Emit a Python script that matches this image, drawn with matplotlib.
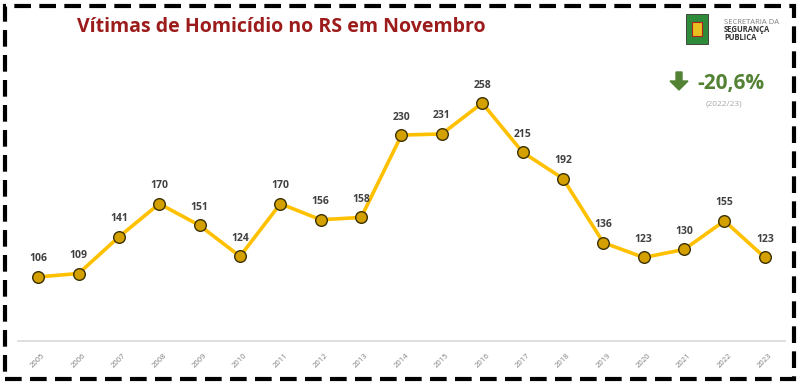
import matplotlib.pyplot as plt
from matplotlib.patches import Rectangle, FancyArrow

years = [str(y) for y in range(2005, 2024)]
vitimas = [106, 109, 141, 170, 151, 124, 170, 156, 158, 230, 231, 258, 215, 192, 136, 123, 130, 155, 123]

W, H = 800, 385
fig = plt.figure(figsize=(W / 100, H / 100), dpi=100)
plt.rcParams['font.family'] = ['Open Sans', 'DejaVu Sans']

ax = fig.add_axes([18 / W, 1 - 341 / H, (785 - 18) / W, (341 - 55) / H])
x = range(len(years))
ax.plot(x, vitimas, color='#FFC000', lw=2.6, zorder=2)
ax.scatter(x, vitimas, s=70, color='#D4A000', edgecolor='#3a3000', linewidth=1.0, zorder=3)
for xi, v in zip(x, vitimas):
    ax.annotate(str(v), (xi, v), xytext=(0, 9), textcoords='offset points',
                ha='center', va='bottom', fontsize=7.5, fontweight='bold', color='#404040')

ax.set_xlim(-0.5, len(years) - 0.5)
ax.set_ylim(50, 300)
ax.set_xticks(list(x))
ax.set_xticklabels(years, rotation=45, fontsize=5.5, color='#7f7f7f', ha='center', va='top')
ax.tick_params(axis='x', length=0, pad=8)
ax.set_yticks([])
for s in ['top', 'left', 'right']:
    ax.spines[s].set_visible(False)
ax.spines['bottom'].set_color('#d9d9d9')
ax.spines['bottom'].set_linewidth(1.2)
ax.patch.set_alpha(0)

# title
fig.text(281 / W, 1 - 27 / H, 'Vítimas de Homicídio no RS em Novembro', ha='center', va='center',
         fontsize=14, fontweight='bold', color='#9C1C1C')

# logo (coat of arms only sketched)
fig.add_artist(Rectangle((686 / W, 1 - 44 / H), 22 / W, 30 / H, transform=fig.transFigure,
                         facecolor='#2e8b3a', edgecolor='#333333', lw=0.6))
fig.add_artist(Rectangle((692 / W, 1 - 36 / H), 10 / W, 14 / H, transform=fig.transFigure,
                         facecolor='#e8c020', edgecolor='#b02020', lw=0.8))
fig.text(724 / W, 1 - 22 / H, 'SECRETARIA DA', fontsize=5.5, color='#808080', va='center')
fig.text(724 / W, 1 - 30 / H, 'SEGURANÇA', fontsize=5.5, color='#333333', fontweight='bold', va='center')
fig.text(724 / W, 1 - 38 / H, 'PÚBLICA', fontsize=5.5, color='#333333', fontweight='bold', va='center')

# variation
fig.add_artist(FancyArrow(679 / W, 1 - 72 / H, 0, -18 / H, width=6 / W, head_width=18 / W,
                          head_length=9 / H, length_includes_head=True, transform=fig.transFigure,
                          color='#548235'))
fig.text(697 / W, 1 - 83 / H, '-20,6%', fontsize=15, fontweight='bold', color='#548235', va='center')
fig.text(724 / W, 1 - 104 / H, '(2022/23)', fontsize=6, color='#a6a6a6', ha='center', va='center')

# dashed border
fig.add_artist(Rectangle((5 / W, 6 / H), 789 / W, 373 / H, transform=fig.transFigure, fill=False,
                         edgecolor='black', lw=3, linestyle=(0, (4, 2))))

fig.savefig('out.png', dpi=100, facecolor='white')
